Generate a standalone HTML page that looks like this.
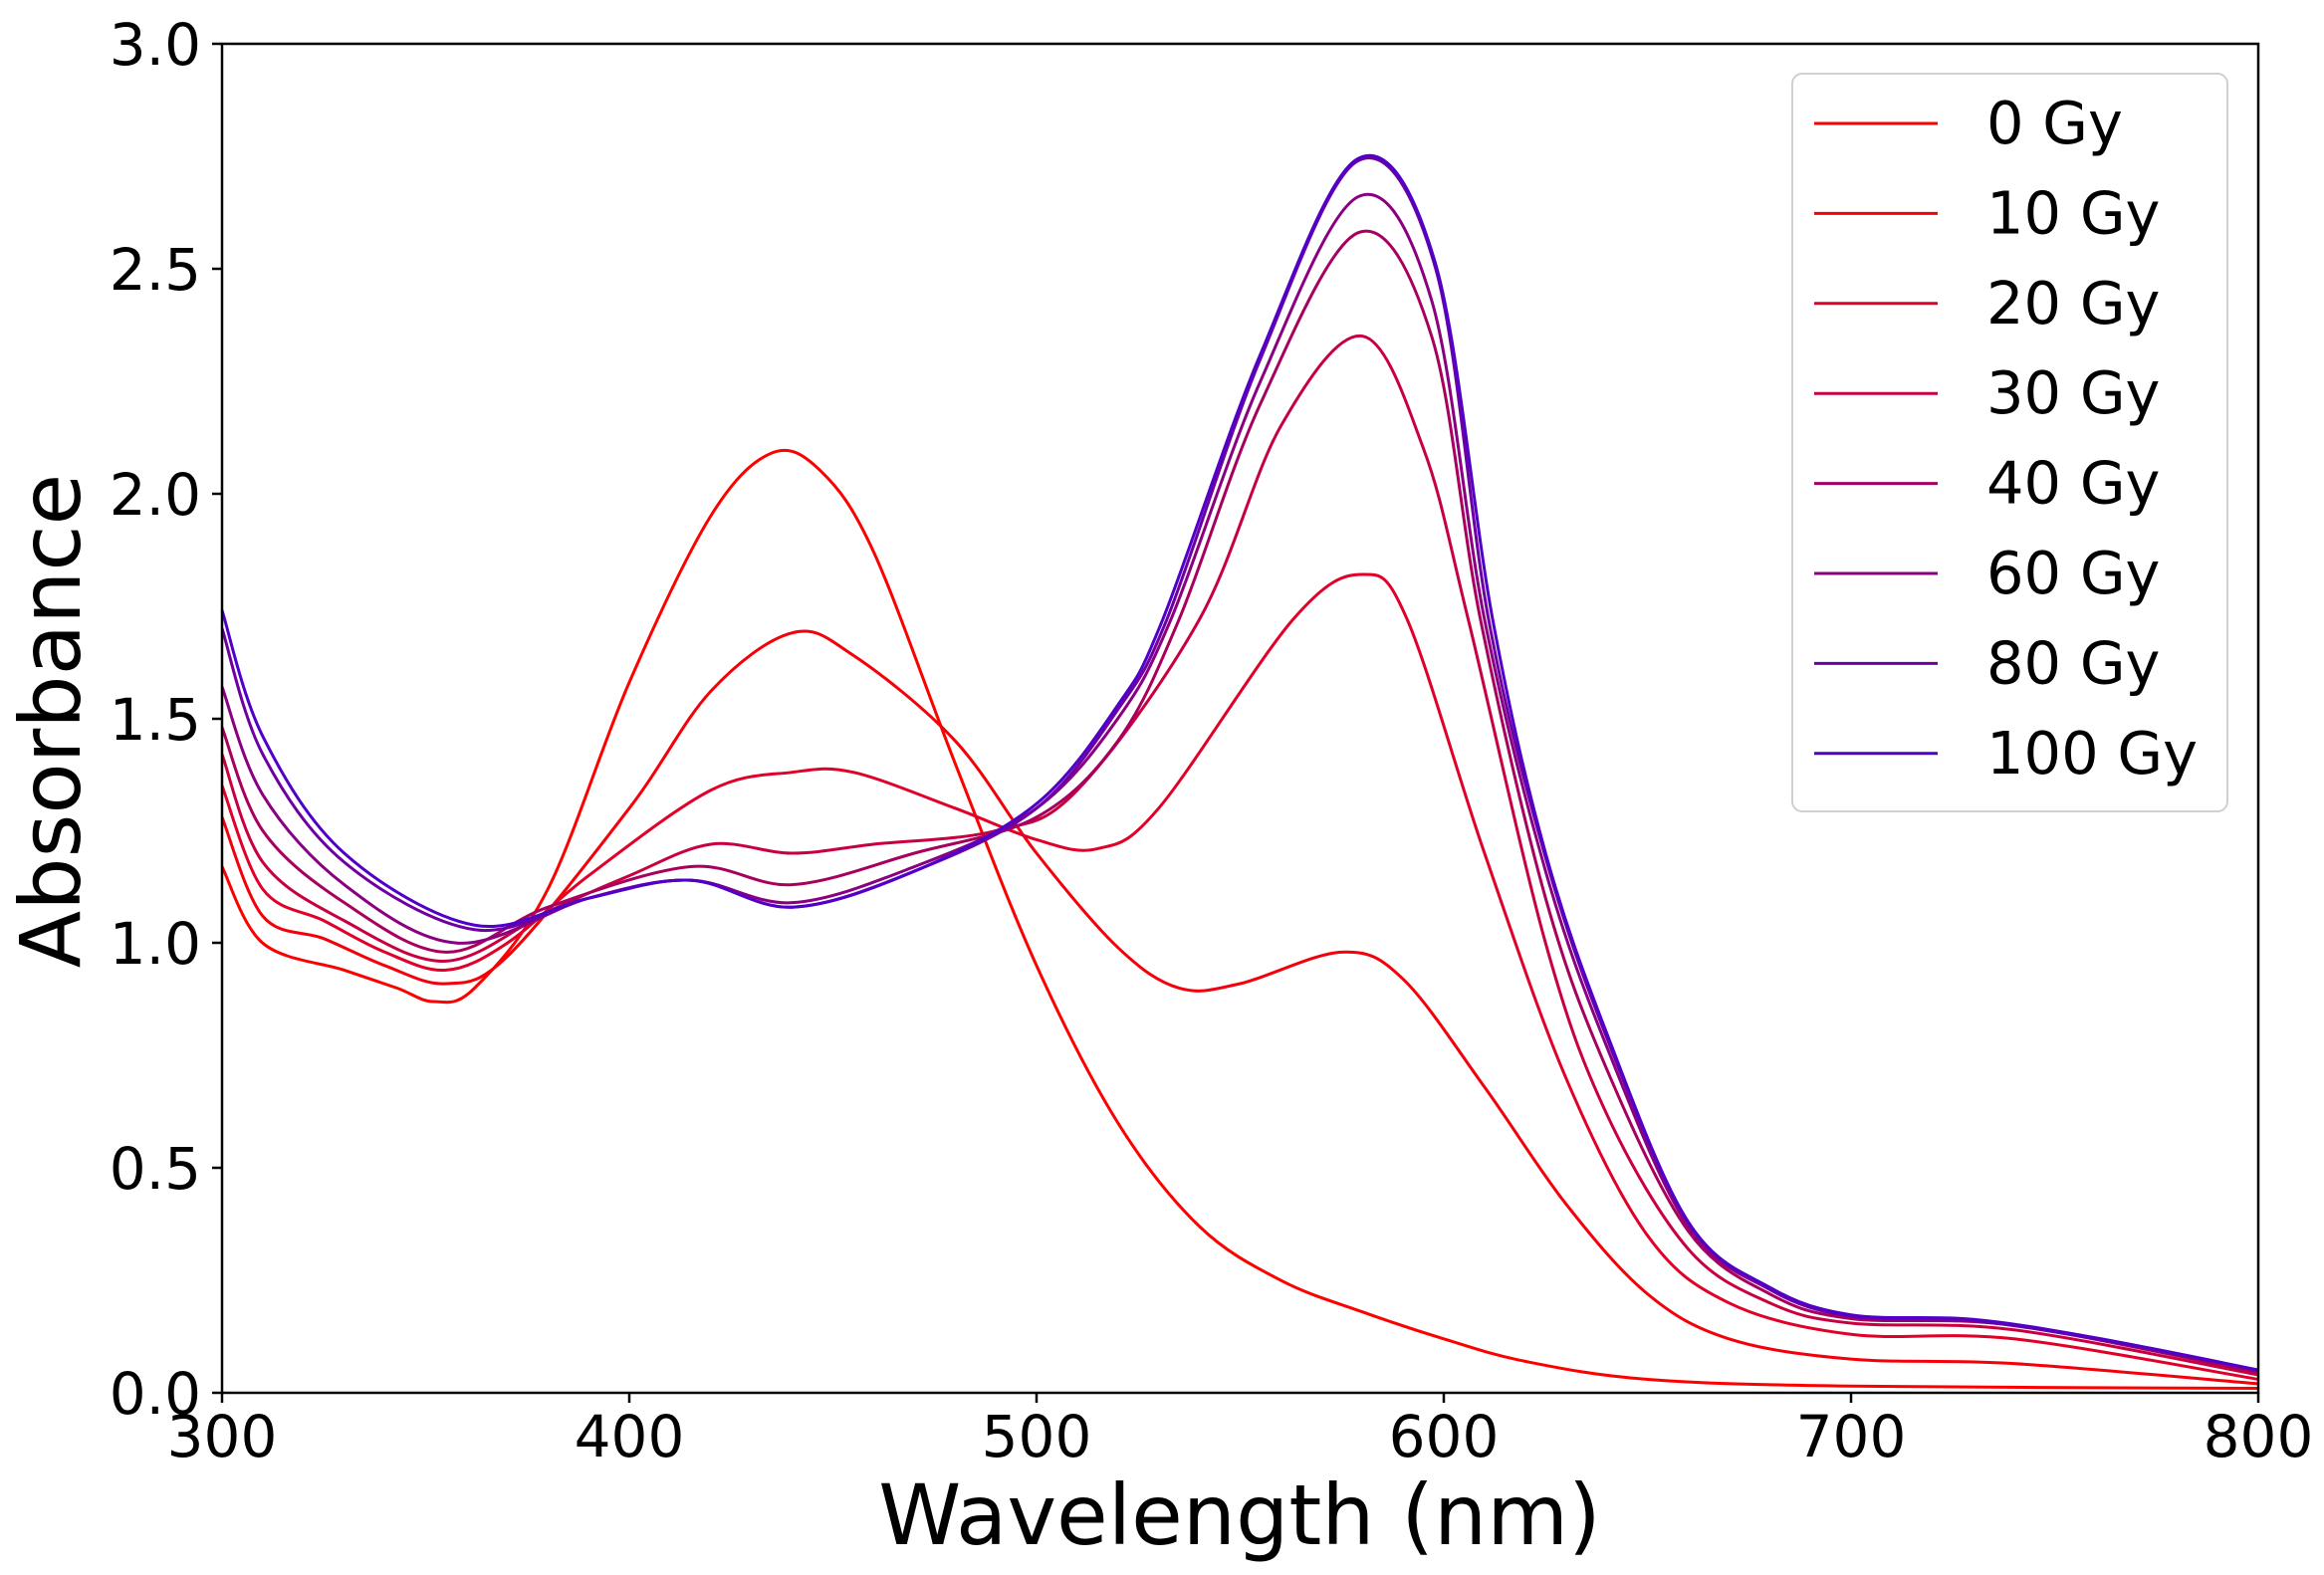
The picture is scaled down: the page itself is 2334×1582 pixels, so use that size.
<!DOCTYPE html>
<html><head><meta charset="utf-8"><style>
body{margin:0;background:#fff}
svg{display:block}
text{font-family:"DejaVu Sans","Liberation Sans",sans-serif;fill:#000}
</style></head><body>
<svg id="s" width="2334" height="1582" viewBox="0 0 2334 1582" xmlns="http://www.w3.org/2000/svg">
<g id="curves" fill="none" stroke-width="3" stroke-linejoin="round"></g>
<rect x="223" y="44" width="2045" height="1355" fill="none" stroke="#000" stroke-width="2.5"/>
<g stroke="#000" stroke-width="2.5">
<line x1="223" y1="1399" x2="223" y2="1409"/><line x1="632" y1="1399" x2="632" y2="1409"/><line x1="1041" y1="1399" x2="1041" y2="1409"/><line x1="1450" y1="1399" x2="1450" y2="1409"/><line x1="1859" y1="1399" x2="1859" y2="1409"/><line x1="2268" y1="1399" x2="2268" y2="1409"/>
<line x1="213" y1="1399" x2="223" y2="1399"/><line x1="213" y1="1173" x2="223" y2="1173"/><line x1="213" y1="947" x2="223" y2="947"/><line x1="213" y1="722" x2="223" y2="722"/><line x1="213" y1="496" x2="223" y2="496"/><line x1="213" y1="270" x2="223" y2="270"/><line x1="213" y1="44" x2="223" y2="44"/>
</g>
<g font-size="58" text-anchor="middle">
<text x="223" y="1463">300</text><text x="632" y="1463">400</text><text x="1041" y="1463">500</text><text x="1450" y="1463">600</text><text x="1859" y="1463">700</text><text x="2268" y="1463">800</text>
</g>
<g font-size="58" text-anchor="end">
<text x="202" y="1420">0.0</text><text x="202" y="1194">0.5</text><text x="202" y="968">1.0</text><text x="202" y="743">1.5</text><text x="202" y="517">2.0</text><text x="202" y="291">2.5</text><text x="202" y="65">3.0</text>
</g>
<text x="1245" y="1551" font-size="84" text-anchor="middle">Wavelength (nm)</text>
<text transform="translate(80,724) rotate(-90)" font-size="84" text-anchor="middle">Absorbance</text>
<rect x="1800" y="74" width="437" height="741" rx="10" fill="#fff" fill-opacity="0.8" stroke="#d0d0d0" stroke-width="2"/>
<g id="leg" font-size="59"></g>
</svg>
<script>
const X=l=>223+(l-300)*4.09, Y=a=>1399-a*451.67;
const cols=["#ff0000","#f5000a","#e10028","#c8003f","#a8005e","#8a0080","#6e00a2","#5000c8"];
const names=["0 Gy","10 Gy","20 Gy","30 Gy","40 Gy","60 Gy","80 Gy","100 Gy"];
const tail=(k)=>[[680,0.23*k],[700,0.17*k],[730,0.16*k],[760,0.12*k],[800,0.05*k]];
const D=[
[[300,1.17],[310,1.0],[330,0.94],[343,0.9],[352,0.87],[362,0.9],[380,1.12],[400,1.58],[420,1.95],[435,2.09],[447,2.05],[460,1.87],[480,1.4],[500,0.95],[520,0.6],[540,0.37],[560,0.25],[580,0.18],[600,0.12],[620,0.07],[650,0.03],[700,0.015],[800,0.01]],
[[300,1.28],[310,1.06],[325,1.01],[340,0.95],[355,0.91],[370,0.97],[400,1.3],[420,1.56],[440,1.69],[455,1.64],[480,1.45],[500,1.2],[520,0.99],[535,0.9],[550,0.91],[575,0.98],[590,0.92],[610,0.68],[630,0.42],[650,0.22],[670,0.12],[700,0.075],[740,0.065],[800,0.02]],
[[300,1.35],[310,1.12],[325,1.05],[340,0.98],[355,0.94],[370,1.0],[390,1.15],[420,1.34],[440,1.38],[455,1.38],[480,1.3],[500,1.23],[515,1.21],[530,1.3],[563,1.72],[580,1.82],[591,1.72],[610,1.2],[630,0.7],[650,0.35],[670,0.2],[700,0.13],[740,0.12],[800,0.03]],
[[300,1.42],[310,1.18],[330,1.05],[355,0.96],[380,1.07],[400,1.15],[420,1.22],[440,1.2],[460,1.22],[490,1.25],[510,1.34],[540,1.72],[560,2.15],[580,2.35],[595,2.1],[606,1.72],[625,1.0],[640,0.62],[660,0.32],[680,0.2],[700,0.155],[740,0.14],[800,0.04]],
[[300,1.48],[310,1.25],[330,1.09],[355,0.98],[380,1.08],[415,1.17],[440,1.13],[470,1.2],[500,1.28],[520,1.45],[535,1.72],[555,2.2],[579,2.58],[597,2.35],[609,1.72],[625,1.1],[640,0.72],[660,0.36],[680,0.22],[700,0.165],[740,0.15],[800,0.045]],
[[300,1.57],[310,1.33],[330,1.13],[358,1.0],[390,1.1],[415,1.14],[440,1.09],[470,1.17],[500,1.3],[520,1.5],[533,1.72],[555,2.25],[579,2.66],[597,2.43],[610,1.72],[625,1.16],[640,0.77],[660,0.37],...tail(1)],
[[300,1.7],[310,1.42],[330,1.18],[362,1.03],[390,1.1],[415,1.14],[440,1.08],[470,1.16],[500,1.3],[520,1.52],[532,1.72],[555,2.3],[579,2.74],[598,2.5],[611,1.72],[625,1.19],[640,0.79],[660,0.38],...tail(1)],
[[300,1.74],[310,1.46],[330,1.2],[362,1.04],[390,1.1],[415,1.14],[440,1.08],[470,1.16],[500,1.31],[520,1.53],[531,1.72],[555,2.31],[579,2.745],[598,2.51],[612,1.72],[625,1.2],[640,0.8],[660,0.38],...tail(1.02)]
];
const ns="http://www.w3.org/2000/svg";
function path(pts){const p=pts.map(([l,a])=>[X(l),Y(a)]);let d="M"+p[0][0]+","+p[0][1];
for(let i=0;i<p.length-1;i++){const p0=p[i-1]||p[i],p1=p[i],p2=p[i+1],p3=p[i+2]||p2;
d+=" C"+(p1[0]+(p2[0]-p0[0])/6)+","+(p1[1]+(p2[1]-p0[1])/6)+" "+(p2[0]-(p3[0]-p1[0])/6)+","+(p2[1]-(p3[1]-p1[1])/6)+" "+p2[0]+","+p2[1];}return d;}
const g=document.getElementById("curves"),lg=document.getElementById("leg");
D.forEach((pts,i)=>{const e=document.createElementNS(ns,"path");e.setAttribute("d",path(pts));e.setAttribute("stroke",cols[i]);g.appendChild(e);
const y=124+i*90.4;const l=document.createElementNS(ns,"line");l.setAttribute("x1",1822);l.setAttribute("x2",1946);l.setAttribute("y1",y);l.setAttribute("y2",y);l.setAttribute("stroke",cols[i]);l.setAttribute("stroke-width",3);lg.appendChild(l);
const t=document.createElementNS(ns,"text");t.setAttribute("x",1995);t.setAttribute("y",y+20);t.textContent=names[i];lg.appendChild(t);});
</script>
</body></html>
